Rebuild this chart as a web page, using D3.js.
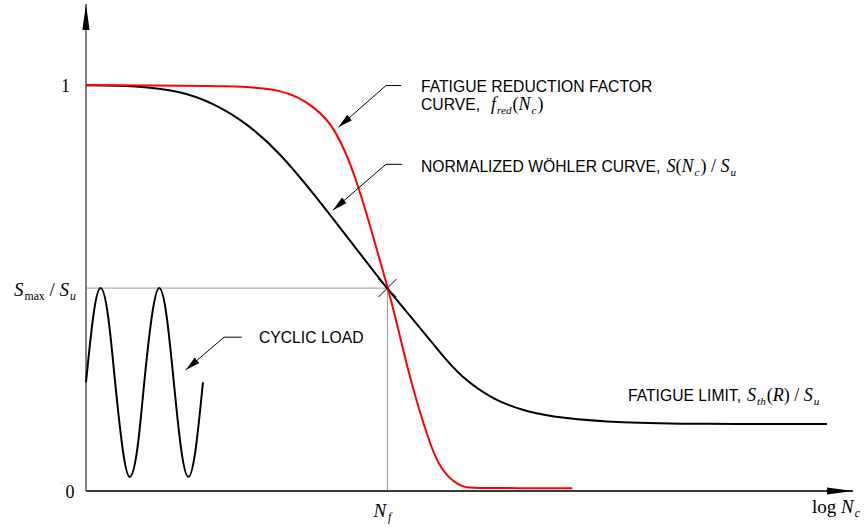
<!DOCTYPE html>
<html>
<head>
<meta charset="utf-8">
<script src="https://cdn.jsdelivr.net/npm/d3@7"></script>
<style>
  html, body { margin: 0; padding: 0; background: #fff; }
  svg { display: block; }
</style>
</head>
<body>
<div id="chart"></div>
<script>
// x is log Nc (arbitrary units), y is S / Su
const wohlerX = [0, 0.66, 1.23, 1.66, 2.10, 2.53, 2.96, 3.22, 3.40, 3.83, 3.93, 4.22, 4.65, 4.88, 5.31, 5.75, 6.18, 6.96, 8.0, 9.66];
const wohlerY = [1.0, 0.999, 0.986, 0.956, 0.906, 0.833, 0.734, 0.671, 0.627, 0.522, 0.498, 0.433, 0.333, 0.283, 0.224, 0.195, 0.180, 0.168, 0.165, 0.165];

const redX = [0, 2.10, 2.53, 2.75, 2.96, 3.14, 3.22, 3.40, 3.61, 3.83, 3.94, 4.09, 4.22, 4.45, 4.62, 4.88, 5.0, 6.34];
const redY = [1.0, 0.999, 0.987, 0.972, 0.948, 0.915, 0.895, 0.833, 0.717, 0.569, 0.498, 0.385, 0.280, 0.133, 0.050, 0.010, 0.007, 0.007];

const cycleX = [0, 0.096, 0.19, 0.287, 0.38, 0.478, 0.57, 0.669, 0.76, 0.86, 0.955, 1.05, 1.145, 1.24, 1.335, 1.43, 1.525];
const cycleY = [0.268, 0.432, 0.5, 0.432, 0.268, 0.104, 0.035, 0.104, 0.268, 0.432, 0.5, 0.432, 0.268, 0.104, 0.035, 0.104, 0.268];

const yTickValues = [0, 1];
const yTickLabels = ['0', '1'];
const sMax = 0.5;
const nF = 3.93;

const width = 865, height = 531;
const sans = '"Liberation Sans", Arial, sans-serif';
const serif = '"Liberation Serif", "Times New Roman", serif';

const x = d3.scaleLinear().domain([0, 10]).range([86, 853]);
const y = d3.scaleLinear().domain([0, 1.2]).range([491, 4]);

const svg = d3.select('#chart')
  .append('svg')
  .attr('width', width)
  .attr('height', height);

// arrow heads
const defs = svg.append('defs');
function addMarker(id, len, half) {
  defs.append('marker')
    .attr('id', id)
    .attr('markerUnits', 'userSpaceOnUse')
    .attr('markerWidth', len + 2)
    .attr('markerHeight', half * 2 + 2)
    .attr('viewBox', `0 ${-half - 1} ${len + 2} ${half * 2 + 2}`)
    .attr('refX', len)
    .attr('refY', 0)
    .attr('orient', 'auto')
    .append('path')
    .attr('d', `M0,${-half}L${len},0L0,${half}Z`)
    .attr('fill', '#000');
}
addMarker('axisArrow', 26, 3.6);
addMarker('leadArrow', 15, 3.6);

// reference lines at Smax / Nf
svg.append('line')
  .attr('x1', x(0)).attr('x2', x(nF))
  .attr('y1', y(sMax)).attr('y2', y(sMax))
  .attr('stroke', '#9a9a9a').attr('stroke-width', 1);
svg.append('line')
  .attr('x1', x(nF)).attr('x2', x(nF))
  .attr('y1', y(sMax)).attr('y2', y(0))
  .attr('stroke', '#9a9a9a').attr('stroke-width', 1);

// faint tick left of 0
svg.append('line')
  .attr('x1', 60).attr('x2', 77)
  .attr('y1', y(0) - 8).attr('y2', y(0) - 8)
  .attr('stroke', '#e6e6e6').attr('stroke-width', 1);

// axes
svg.append('line')
  .attr('x1', x(0)).attr('x2', x(0))
  .attr('y1', y(0)).attr('y2', y(1.2))
  .attr('stroke', '#606060').attr('stroke-width', 1.6)
  .attr('marker-end', 'url(#axisArrow)');
svg.append('line')
  .attr('x1', x(0)).attr('x2', x(10))
  .attr('y1', y(0)).attr('y2', y(0))
  .attr('stroke', '#3a3a3a').attr('stroke-width', 2)
  .attr('marker-end', 'url(#axisArrow)');

// curves
const line = d3.line()
  .x(d => x(d[0]))
  .y(d => y(d[1]));

svg.append('path')
  .datum(d3.zip(cycleX, cycleY))
  .attr('fill', 'none')
  .attr('stroke', '#000')
  .attr('stroke-width', 2)
  .attr('d', line.curve(d3.curveNatural));

svg.append('path')
  .datum(d3.zip(wohlerX, wohlerY))
  .attr('fill', 'none')
  .attr('stroke', '#000')
  .attr('stroke-width', 2)
  .attr('d', line.curve(d3.curveBasis));

svg.append('path')
  .datum(d3.zip(redX, redY))
  .attr('fill', 'none')
  .attr('stroke', '#ff0000')
  .attr('stroke-width', 2)
  .attr('d', line.curve(d3.curveBasis));

// cross at failure point
const cx = x(nF), cy = y(sMax), cr = 9;
svg.append('path')
  .attr('d', `M${cx - cr},${cy + cr}L${cx + cr},${cy - cr}M${cx - cr},${cy - cr}L${cx + cr},${cy + cr}`)
  .attr('stroke', '#000').attr('stroke-width', 1).attr('fill', 'none');

// leader arrows: [text end, elbow, tip] in data units
const leaders = [
  [[4.11, 0.999], [3.91, 0.999], [3.29, 0.896]],
  [[4.12, 0.805], [3.91, 0.805], [3.22, 0.692]],
  [[2.03, 0.379], [1.80, 0.379], [1.30, 0.298]]
];
svg.selectAll('.leader')
  .data(leaders)
  .join('path')
  .attr('class', 'leader')
  .attr('d', d => d3.line().x(p => x(p[0])).y(p => y(p[1]))(d))
  .attr('fill', 'none')
  .attr('stroke', '#000')
  .attr('stroke-width', 1)
  .attr('marker-end', 'url(#leadArrow)');

// math-ish text helper: parts [text, style] style: 'i' italic, 'r' roman, 'si' sub italic, 'sr' sub roman
function mathParts(sel, parts, size) {
  let shifted = false;
  parts.forEach(p => {
    const sub = p[1].startsWith('s');
    const ts = sel.append('tspan')
      .style('font-family', serif)
      .style('font-style', p[1].endsWith('i') ? 'italic' : 'normal')
      .style('font-size', (sub ? size * 0.62 : size) + 'px')
      .text(p[0]);
    if (sub && !shifted) { ts.attr('dy', size * 0.22); shifted = true; }
    else if (!sub && shifted) { ts.attr('dy', -size * 0.22); shifted = false; }
    if (p[2]) ts.attr('dx', p[2]);
  });
}

// y tick labels
svg.selectAll('.ytick')
  .data(yTickValues)
  .join('text')
  .attr('class', 'ytick')
  .attr('x', (d, i) => i === 0 ? 74.5 : 70)
  .attr('y', d => y(d) + 6.8)
  .attr('text-anchor', 'end')
  .style('font-family', serif)
  .style('font-size', '18px')
  .text((d, i) => yTickLabels[i]);

// Smax / Su
mathParts(svg.append('text').attr('x', 14).attr('y', y(sMax) + 8),
  [['S', 'i'], ['max', 'sr', 1], [' / ', 'r'], ['S', 'i'], ['u', 'si', 1]], 19);

// Nf
mathParts(svg.append('text').attr('x', x(nF) - 14).attr('y', 517),
  [['N', 'i'], ['f', 'si', 2]], 19);

// log Nc
mathParts(svg.append('text').attr('x', 812).attr('y', 513),
  [['log ', 'r'], ['N', 'i'], ['c', 'si', 1]], 19);

// annotation texts
function annot(px, py, str, parts, gap) {
  const t = svg.append('text')
    .attr('x', px).attr('y', py)
    .style('font-family', sans)
    .style('font-size', '15.7px')
    .attr('fill', '#000');
  t.append('tspan').text(str);
  if (parts) {
    parts[0][2] = gap;
    mathParts(t, parts, 18);
  }
}

annot(421, 92, 'FATIGUE REDUCTION FACTOR');
annot(421, 110, 'CURVE,', [['f', 'i'], ['red', 'si', 1], ['(', 'r', 1], ['N', 'i'], ['c', 'si', 1], [')', 'r', 1]], 11);
annot(421, 172, 'NORMALIZED WÖHLER CURVE,', [['S', 'i'], ['(', 'r'], ['N', 'i'], ['c', 'si', 1], [')', 'r', 1], [' / ', 'r'], ['S', 'i'], ['u', 'si', 1]], 6);
annot(259, 343, 'CYCLIC LOAD');
annot(628, 401, 'FATIGUE LIMIT,', [['S', 'i'], ['th', 'si', 1], ['(', 'r', 1], ['R', 'i'], [')', 'r'], [' / ', 'r'], ['S', 'i'], ['u', 'si', 1]], 6);
</script>
</body>
</html>
